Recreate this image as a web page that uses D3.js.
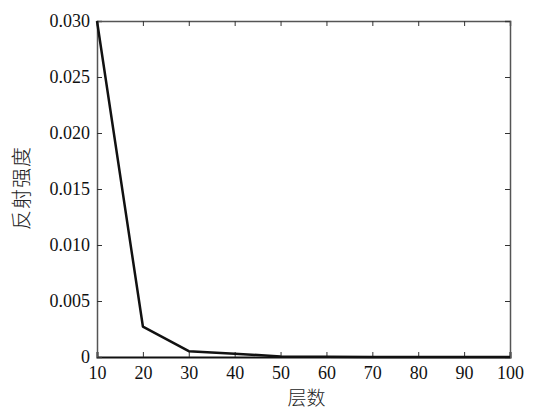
<!DOCTYPE html>
<html>
<head>
<meta charset="UTF-8">
<title>反射强度</title>
<script src="https://d3js.org/d3.v7.min.js"></script>
<style>
  body { margin: 0; background: #fff; }
  svg text.num { font-family: "Liberation Serif", "Times New Roman", Times, "DejaVu Serif", serif !important; }
</style>
</head>
<body>
<div id="chart"></div>
<script>
// layers and reflection intensity
var layers = [10, 20, 30, 40, 50, 60, 70, 80, 90, 100];
var intensity = [0.0300, 0.00272, 0.00052, 0.00030, 0.00005, 0.00002, 0.00001, 0.00001, 0.00001, 0.00001];
var xTicks = [10, 20, 30, 40, 50, 60, 70, 80, 90, 100];
var yTicks = [0, 0.005, 0.010, 0.015, 0.020, 0.025, 0.030];
var xTitle = "层数", yTitle = "反射强度";

var width = 546, height = 420;
var margin = {top: 21, right: 36, bottom: 63, left: 97};
var w = width - margin.left - margin.right,
    h = height - margin.top - margin.bottom;

var svg = d3.select("#chart").append("svg")
    .attr("width", width).attr("height", height);
var g = svg.append("g").attr("transform", "translate(" + margin.left + "," + margin.top + ")");

var x = d3.scaleLinear().domain([10, 100]).range([0, w]);
var y = d3.scaleLinear().domain([0, 0.030]).range([h, 0]);

var fmt = function (d) { return d === 0 ? "0" : d3.format(".3f")(d); };

// axes, ticks pointing inward
var xAxis = g.append("g").attr("transform", "translate(0," + h + ")")
    .call(d3.axisBottom(x).tickValues(xTicks).tickSize(-5).tickPadding(9));
var yAxis = g.append("g")
    .call(d3.axisLeft(y).tickValues(yTicks).tickSize(-5).tickPadding(7).tickFormat(fmt));
var xTop = g.append("g")
    .call(d3.axisTop(x).tickValues(xTicks).tickSize(-5).tickFormat(""));
var yRight = g.append("g").attr("transform", "translate(" + w + ",0)")
    .call(d3.axisRight(y).tickValues(yTicks).tickSize(-5).tickFormat(""));

[xAxis, yAxis, xTop, yRight].forEach(function (a) {
    a.attr("font-family", null).attr("font-size", null);
    a.select(".domain").attr("stroke", "#555").attr("stroke-width", 1.5);
    a.selectAll(".tick line").attr("stroke", "#333").attr("stroke-width", 1);
    a.selectAll(".tick text").attr("class", "num")
        .style("font-size", "18px").attr("fill", "#111");
});
xAxis.select(".domain").attr("stroke", "#111").attr("stroke-width", 2);

// data line
var line = d3.line()
    .x(function (d, i) { return x(layers[i]); })
    .y(function (d) { return y(d); });
g.append("path").datum(intensity)
    .attr("d", line)
    .attr("fill", "none")
    .attr("stroke", "#111")
    .attr("stroke-width", 2.5)
    .attr("stroke-linejoin", "round");

// titles
svg.append("text")
    .attr("x", margin.left + w / 2 + 3).attr("y", 405)
    .attr("text-anchor", "middle")
    .style("font-family", "'Noto Sans CJK SC', sans-serif")
    .style("font-weight", 300)
    .style("font-size", "19px").style("fill", "#222")
    .text(xTitle);
svg.append("text")
    .attr("transform", "translate(29," + 188 + ") rotate(-90)")
    .attr("text-anchor", "middle")
    .style("font-family", "'Noto Sans CJK SC', sans-serif")
    .style("font-weight", 300)
    .style("font-size", "20px").style("letter-spacing", "1px").style("fill", "#222")
    .text(yTitle);
</script>
</body>
</html>
